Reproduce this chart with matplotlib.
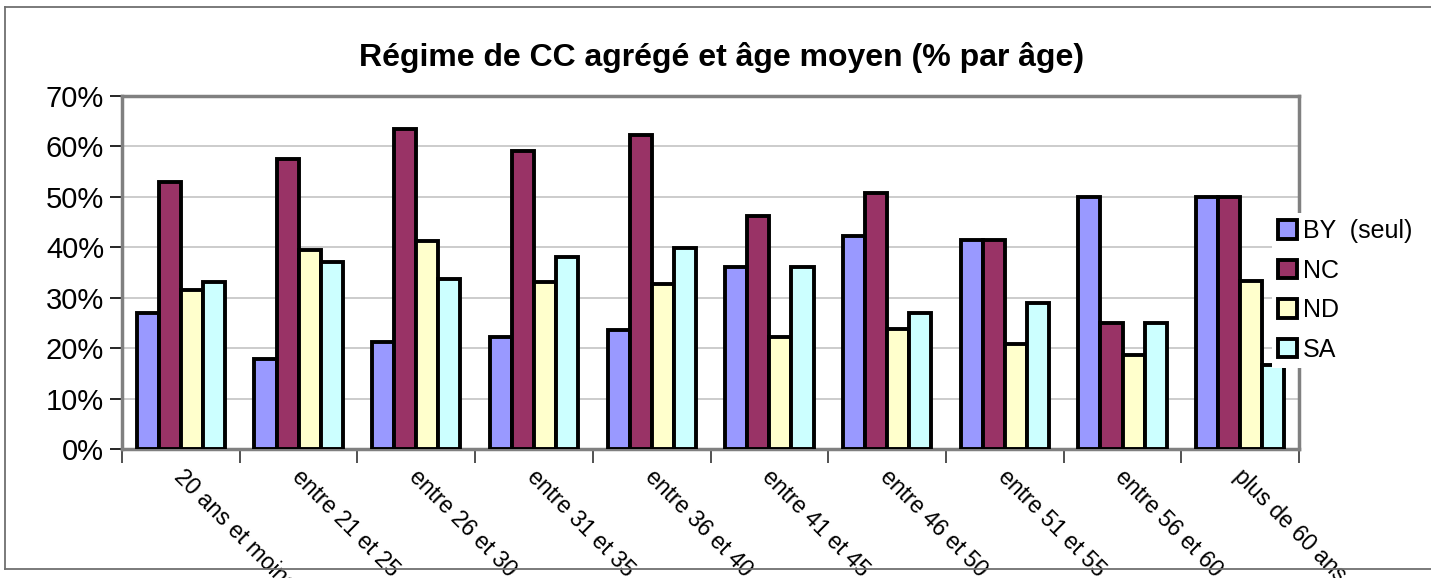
import numpy as np
import matplotlib
matplotlib.use("Agg")
import matplotlib.pyplot as plt
from matplotlib.lines import Line2D
from matplotlib.ticker import FuncFormatter

plt.rcParams['font.family'] = ['Liberation Sans', 'DejaVu Sans']

# age brackets and share of each regime (%)
categories = ["20 ans et moins", "entre 21 et 25", "entre 26 et 30", "entre 31 et 35",
              "entre 36 et 40", "entre 41 et 45", "entre 46 et 50", "entre 51 et 55",
              "entre 56 et 60", "plus de 60 ans"]
series_names = ["BY  (seul)", "NC", "ND", "SA"]
by_seul = [27.0, 17.8, 21.3, 22.3, 23.5, 36.1, 42.2, 41.5, 50.0, 50.0]
nc = [53.0, 57.5, 63.5, 59.0, 62.2, 46.3, 50.8, 41.5, 25.0, 50.0]
nd = [31.5, 39.5, 41.2, 33.1, 32.7, 22.3, 23.7, 20.8, 18.7, 33.3]
sa = [33.2, 37.0, 33.7, 38.1, 39.8, 36.1, 26.9, 28.9, 25.0, 16.7]
colors = ["#9999FF", "#993366", "#FFFFCC", "#CCFFFF"]

fig = plt.figure(figsize=(14.31, 5.78), dpi=100)
ax = fig.add_axes([0.0853, 0.2232, 0.8225, 0.6107])

x = np.arange(len(categories))
width = 0.1875
for i, (vals, name, col) in enumerate(zip([by_seul, nc, nd, sa], series_names, colors)):
    ax.bar(x + (i - 1.5) * width, vals, width, color=col, edgecolor="black",
           linewidth=2.8, label=name, zorder=3)

ax.set_xlim(-0.5, len(categories) - 0.5)
ax.set_ylim(0, 70)
ax.set_yticks(np.arange(0, 71, 10))
ax.yaxis.set_major_formatter(FuncFormatter(lambda v, p: f"{v:.0f}%"))
ax.tick_params(axis="y", labelsize=21, length=9, width=1.2, color="black", pad=4)
ax.grid(axis="y", color="#c8c8c8", linewidth=1.3, zorder=0)

# tick marks between the groups, labels drawn separately
ax.set_xticks(np.arange(len(categories) + 1) - 0.5)
ax.set_xticklabels([])
ax.tick_params(axis="x", length=10, width=1.2, color="#333333")
for xi, lab in zip(x, categories):
    ax.text(xi + 0.04, -3.2, lab, rotation=-45, rotation_mode="anchor",
            ha="left", va="top", fontsize=16.5, clip_on=False)

for s in ax.spines.values():
    s.set_color("#808080")
    s.set_linewidth(2.5)

fig.text(0.504, 0.9, "Régime de CC agrégé et âge moyen (% par âge)",
         ha="center", va="center", fontsize=23, fontweight="bold")

leg = fig.legend(loc="upper left", bbox_to_anchor=(1272 / 1431, 1 - 213 / 578),
                 fontsize=18, frameon=True, fancybox=False, framealpha=1,
                 edgecolor="none", facecolor="white", handlelength=0.75,
                 handleheight=0.75, handletextpad=0.25, labelspacing=0.62,
                 borderpad=0.25, borderaxespad=0)
leg.set_zorder(10)

# outer chart frame
for xs, ys in [([5 / 1431, 1.0], [1 - 7 / 578] * 2),
               ([5 / 1431] * 2, [1 - 7 / 578, 1 - 569 / 578]),
               ([5 / 1431, 1.0], [1 - 569 / 578] * 2)]:
    fig.add_artist(Line2D(xs, ys, transform=fig.transFigure, color="#707070", linewidth=1.3))

fig.savefig("out.png", dpi=100)
